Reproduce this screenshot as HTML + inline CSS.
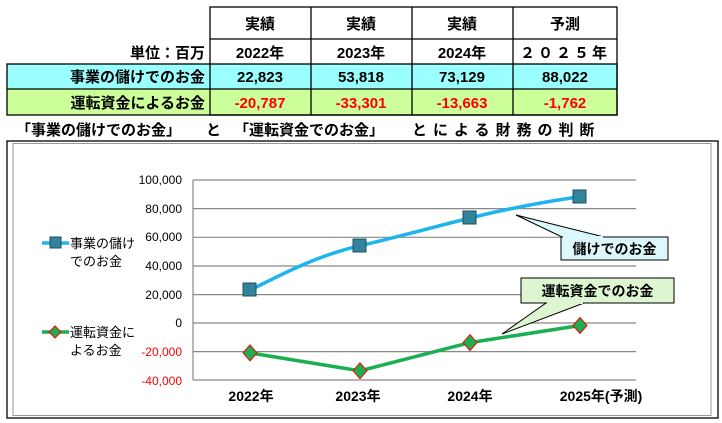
<!DOCTYPE html>
<html><head><meta charset="utf-8"><style>
body{margin:0;background:#fff;}
svg{display:block;font-family:"Liberation Sans","Noto Sans CJK JP",sans-serif;}
</style></head><body>
<svg width="722" height="423" viewBox="0 0 722 423" xmlns="http://www.w3.org/2000/svg">
<rect x="7" y="64" width="203" height="25" fill="#99FFFF"/>
<rect x="210" y="64" width="407" height="25" fill="#99FFFF"/>
<rect x="7" y="89" width="610" height="26" fill="#CCFF99"/>
<g stroke="#000" stroke-width="1.3" fill="none">
<rect x="210" y="7" width="407" height="108"/>
<line x1="210" y1="39" x2="617" y2="39"/>
<rect x="7" y="64" width="610" height="51"/>
<line x1="7" y1="89" x2="617" y2="89"/>
<line x1="311" y1="7" x2="311" y2="115"/>
<line x1="412" y1="7" x2="412" y2="115"/>
<line x1="513" y1="7" x2="513" y2="115"/>
</g>
<g font-size="15" font-weight="bold" text-anchor="middle" fill="#000">
<text x="260" y="29">実績</text><text x="361" y="29">実績</text><text x="462" y="29">実績</text><text x="565" y="29">予測</text>
<text x="260" y="58">2022年</text><text x="361" y="58">2023年</text><text x="462" y="58">2024年</text><text x="565" y="58" letter-spacing="3">２０２５年</text>
<text x="260" y="82">22,823</text><text x="361" y="82">53,818</text><text x="462" y="82">73,129</text><text x="565" y="82">88,022</text>
<g fill="#FF0000"><text x="260" y="108">-20,787</text><text x="361" y="108">-33,301</text><text x="462" y="108">-13,663</text><text x="565" y="108">-1,762</text></g>
<text x="205" y="58" text-anchor="end">単位：百万</text>
<text x="205" y="82" text-anchor="end">事業の儲けでのお金</text>
<text x="205" y="108" text-anchor="end">運転資金によるお金</text>
<g text-anchor="start">
<text x="16" y="135">「事業の儲けでのお金」</text>
<text x="206" y="135">と</text>
<text x="234" y="135">「運転資金でのお金」</text>
<text x="412" y="135" letter-spacing="6">とによる財務の判断</text>
</g>
</g>
<rect x="7" y="141" width="711" height="277" fill="#fff" stroke="#000" stroke-width="1.3"/>
<rect x="13" y="143.5" width="698" height="272" fill="none" stroke="#999" stroke-width="1"/>
<g stroke="#888" stroke-width="1.2">
<line x1="193" y1="180" x2="636" y2="180"/>
<line x1="193" y1="208.6" x2="636" y2="208.6"/>
<line x1="193" y1="237.3" x2="636" y2="237.3"/>
<line x1="193" y1="266" x2="636" y2="266"/>
<line x1="193" y1="294.6" x2="636" y2="294.6"/>
<line x1="193" y1="323" x2="636" y2="323"/>
<line x1="193" y1="351.6" x2="636" y2="351.6"/>
<line x1="193" y1="380" x2="636" y2="380"/>
<line x1="193" y1="180" x2="193" y2="380"/>
</g>
<g font-size="12" text-anchor="end" fill="#000">
<text x="182" y="184">100,000</text><text x="182" y="213">80,000</text><text x="182" y="241">60,000</text><text x="182" y="270">40,000</text><text x="182" y="299">20,000</text><text x="182" y="327">0</text>
<text x="182" y="356" fill="#FF0000">-20,000</text><text x="182" y="385" fill="#FF0000">-40,000</text>
</g>
<g font-size="14" font-weight="bold" text-anchor="middle">
<text x="251" y="401">2022年</text><text x="358" y="401">2023年</text><text x="470" y="401">2024年</text><text x="601" y="401">2025年(予測)</text>
</g>
<path d="M250 290.2 C290 270 320 255 360 245.7 S430 228 470 218 S550 201 580 196.6" fill="none" stroke="#1EB4EE" stroke-width="3.5"/>
<polyline points="250,352.9 360,370.8 470,342.6 580,325.5" fill="none" stroke="#1AAF50" stroke-width="3.5"/>
<g fill="#31849B" stroke="#1F4F5F" stroke-width="1">
<rect x="243" y="283" width="13" height="13"/><rect x="353" y="239" width="13" height="13"/><rect x="463" y="211" width="13" height="13"/><rect x="573" y="190" width="13" height="13"/>
</g>
<g fill="#1AAF50" stroke="#FF0000" stroke-width="1">
<path d="M250 344.9 L257 352.9 L250 360.9 L243 352.9Z"/><path d="M360 362.8 L367 370.8 L360 378.8 L353 370.8Z"/><path d="M470 334.6 L477 342.6 L470 350.6 L463 342.6Z"/><path d="M580 317.5 L587 325.5 L580 333.5 L573 325.5Z"/>
</g>
<line x1="42" y1="243" x2="69" y2="243" stroke="#1EB4EE" stroke-width="3.5"/>
<rect x="50" y="237" width="11" height="11" fill="#31849B" stroke="#1F4F5F"/>
<line x1="42" y1="332" x2="69" y2="332" stroke="#1AAF50" stroke-width="3.5"/>
<path d="M55 326 L61 332 L55 338 L49 332Z" fill="#1AAF50" stroke="#FF0000"/>
<g font-size="13" fill="#000">
<text x="70" y="248">事業の儲け</text><text x="70" y="266">でのお金</text>
<text x="70" y="337">運転資金に</text><text x="70" y="355">よるお金</text>
</g>
<path d="M516 215 L604 237 L562 237 Z" fill="#DDF8FC" stroke="#000" stroke-width="1"/>
<rect x="561" y="237" width="107" height="23" fill="#DDF8FC" stroke="#000" stroke-width="1"/>
<line x1="563" y1="237" x2="603" y2="237" stroke="#DDF8FC" stroke-width="2"/>
<text x="614.5" y="254" font-size="14" font-weight="bold" text-anchor="middle">儲けでのお金</text>
<path d="M502 334 L546 303 L584 303 Z" fill="#DDF5D0" stroke="#000" stroke-width="1"/>
<rect x="521" y="278" width="153" height="25" fill="#DDF5D0" stroke="#000" stroke-width="1"/>
<line x1="547" y1="303" x2="583" y2="303" stroke="#DDF5D0" stroke-width="2"/>
<text x="597.5" y="296" font-size="14" font-weight="bold" text-anchor="middle">運転資金でのお金</text>
</svg>
</body></html>
